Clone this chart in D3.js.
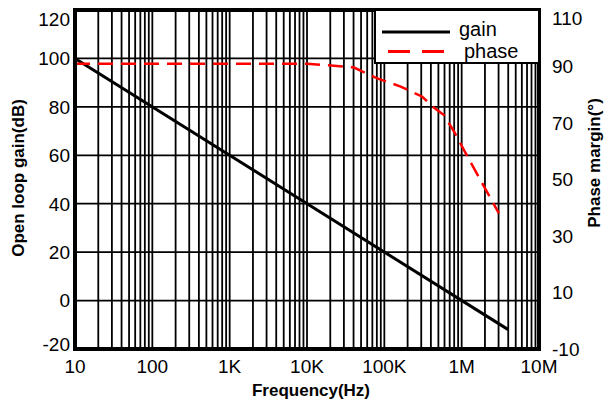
<!DOCTYPE html>
<html>
<head>
<meta charset="utf-8">
<script src="https://cdn.jsdelivr.net/npm/d3@7"></script>
<style>
  body { margin: 0; background: #fff; }
  text { font-family: "Liberation Sans", Arial, sans-serif; fill: #000; }
</style>
</head>
<body>
<svg id="chart" width="605" height="405"></svg>
<script>
// data
const freqTicks = [10, 100, 1e3, 1e4, 1e5, 1e6, 1e7];
const freqLabels = ["10", "100", "1K", "10K", "100K", "1M", "10M"];
const gainTicks = [-20, 0, 20, 40, 60, 80, 100, 120];
const phaseTicks = [-10, 10, 30, 50, 70, 90, 110];

const gainFreq = [10, 4e6];
const gainDb = [100, -12];

const phaseFreq = [10, 1e4, 4e4, 8.1e4, 1.63e5, 3.1e5, 4.2e5, 5.9e5, 8e5, 1.19e6, 3.03e6];
const phaseDeg = [91, 91, 89.7, 85.8, 82.9, 79.3, 75.8, 72.8, 66.9, 58.1, 38];

const svg = d3.select("#chart");

const pLeft = 75, pRight = 539, pTop = 10, pBottom = 349;

const x = d3.scaleLog().domain([10, 1e7]).range([pLeft, pRight]);
const y = d3.scaleLinear().domain([-20, 120]).range([pBottom, pTop]);
const y2 = d3.scaleLinear().domain([-10, 110]).range([pBottom, pTop]);

// grid: every 1..9 per decade
const minor = [];
for (let d = 10; d < 1e7; d *= 10) {
    for (let k = 1; k <= 9; k++) minor.push(d * k);
}
svg.append("g").selectAll("line")
    .data(minor)
    .enter().append("line")
    .attr("x1", d => x(d)).attr("x2", d => x(d))
    .attr("y1", pTop).attr("y2", pBottom)
    .attr("stroke", "#000").attr("stroke-width", 1.8);

svg.append("g").selectAll("line")
    .data(gainTicks.slice(1, -1))
    .enter().append("line")
    .attr("x1", pLeft).attr("x2", pRight)
    .attr("y1", d => y(d)).attr("y2", d => y(d))
    .attr("stroke", "#000").attr("stroke-width", 1.8);

// curves
const gainLine = d3.line().x(d => x(d[0])).y(d => y(d[1]));
svg.append("path")
    .datum(gainFreq.map((f, i) => [f, gainDb[i]]))
    .attr("d", gainLine)
    .attr("fill", "none").attr("stroke", "#000").attr("stroke-width", 3);

const phaseLine = d3.line().x(d => x(d[0])).y(d => y2(d[1]));
svg.append("path")
    .datum(phaseFreq.map((f, i) => [f, phaseDeg[i]]))
    .attr("d", phaseLine)
    .attr("fill", "none").attr("stroke", "#ff0000").attr("stroke-width", 2.5)
    .attr("stroke-dasharray", "15,8");

// frame
svg.append("rect")
    .attr("x", pLeft).attr("y", pTop)
    .attr("width", pRight - pLeft).attr("height", pBottom - pTop)
    .attr("fill", "none").attr("stroke", "#000").attr("stroke-width", 4);

// legend
const lg = svg.append("g");
lg.append("rect")
    .attr("x", 375).attr("y", pTop).attr("width", pRight - 375).attr("height", 53)
    .attr("fill", "#fff").attr("stroke", "#000").attr("stroke-width", 2);
lg.append("line")
    .attr("x1", 382).attr("x2", 450).attr("y1", 32).attr("y2", 32)
    .attr("stroke", "#000").attr("stroke-width", 3);
lg.append("line")
    .attr("x1", 388).attr("x2", 444).attr("y1", 51.5).attr("y2", 51.5)
    .attr("stroke", "#ff0000").attr("stroke-width", 3)
    .attr("stroke-dasharray", "22,12");
lg.append("text").attr("x", 459).attr("y", 36).attr("font-size", 20).text("gain");
lg.append("text").attr("x", 464).attr("y", 58).attr("font-size", 20).text("phase");

// tick labels
svg.append("g").selectAll("text")
    .data(freqTicks)
    .enter().append("text")
    .attr("x", d => x(d)).attr("y", 373)
    .attr("text-anchor", "middle").attr("font-size", 19)
    .text((d, i) => freqLabels[i]);

svg.append("g").selectAll("text")
    .data(gainTicks)
    .enter().append("text")
    .attr("x", 70).attr("y", d => Math.min(Math.max(y(d), 19), 344))
    .attr("dy", "0.36em")
    .attr("text-anchor", "end").attr("font-size", 19)
    .text(d => d);

svg.append("g").selectAll("text")
    .data(phaseTicks)
    .enter().append("text")
    .attr("x", 552).attr("y", d => Math.max(y2(d), 18))
    .attr("dy", "0.36em")
    .attr("text-anchor", "start").attr("font-size", 19)
    .text(d => d);

// axis titles
svg.append("text")
    .attr("x", 311).attr("y", 396)
    .attr("text-anchor", "middle").attr("font-size", 17).attr("font-weight", "bold")
    .text("Frequency(Hz)");

svg.append("text")
    .attr("transform", "translate(24,178) rotate(-90)")
    .attr("text-anchor", "middle").attr("font-size", 17).attr("font-weight", "bold")
    .text("Open loop gain(dB)");

svg.append("text")
    .attr("transform", "translate(600,163) rotate(-90)")
    .attr("text-anchor", "middle").attr("font-size", 17).attr("font-weight", "bold")
    .text("Phase margin(°)");
</script>
</body>
</html>
